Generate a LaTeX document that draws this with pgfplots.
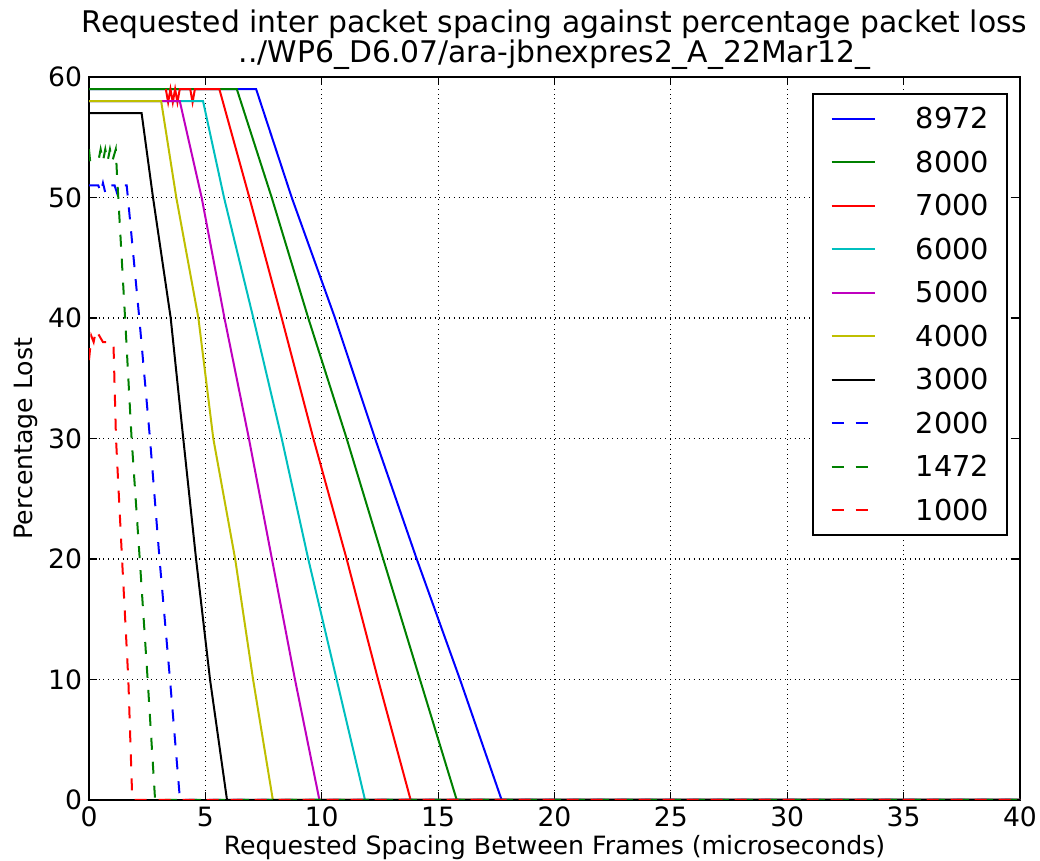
\documentclass[border=0pt]{standalone}
\usepackage{pgfplots}
\pgfplotsset{compat=1.18}
\usepackage{fontspec}
\setmainfont{DejaVu Sans}
\definecolor{mblue}{rgb}{0,0,1}
\definecolor{mgreen}{rgb}{0,0.5,0}
\definecolor{mred}{rgb}{1,0,0}
\definecolor{mcyan}{rgb}{0,0.75,0.75}
\definecolor{mmag}{rgb}{0.75,0,0.75}
\definecolor{myel}{rgb}{0.75,0.75,0}
\begin{document}
\begin{tikzpicture}
\path[use as bounding box] (-44.5pt,-30.5pt) rectangle (475.5pt,400pt);
\begin{axis}[
  at={(0,0)}, anchor=south west,
  scale only axis, width=465.5pt, height=361.5pt,
  xmin=0, xmax=40, ymin=0, ymax=60,
  xtick={0,5,...,40}, ytick={0,10,...,60},
  tick align=inside, major tick length=4pt,
  every tick/.style={black, line width=0.6pt},
  axis line style={line width=0.9pt},
  grid=major, grid style={black, dotted, line width=0.6pt},
  /pgf/number format/assume math mode=true,
  tick label style={font=\fontsize{13.3}{15}\selectfont},
  title={Requested inter packet spacing against percentage packet loss\\../WP6\_D6.07/ara-jbnexpres2\_A\_22Mar12\_},
  title style={font=\fontsize{14.9}{14}\selectfont, align=center, at={(0.5,1)}, anchor=south, yshift=-6pt},
  xlabel={Requested Spacing Between Frames (microseconds)},
  ylabel={Percentage Lost},
  label style={font=\fontsize{12.6}{14}\selectfont},
  xlabel style={yshift=3pt},
  ylabel style={yshift=-1.5pt},
  legend style={at={(0.987,0.978)}, anchor=north east, draw=black, line width=0.9pt,
    font=\fontsize{14.4}{16}\selectfont, inner xsep=9pt, inner ysep=7.5pt,
    row sep=11.75pt,
    nodes={inner sep=0pt, text height=10pt, text depth=0pt},
    /tikz/every odd column/.append style={column sep=20pt}},
  legend image code/.code={\draw[#1, line width=1pt] (0pt,0pt) -- (21.5pt,0pt);},
  every axis plot/.append style={line width=1pt},
]
\addplot[mblue] coordinates {(0,59)(7.18,59)(8.71,50)(10.57,40)(12.29,30)(14.08,20)(15.94,10)(17.73,0)(40,0)};
\addlegendentry{8972}
\addplot[mgreen] coordinates {(0,59)(6.35,59)(7.85,50)(9.42,40)(11.07,30)(12.64,20)(14.22,10)(15.8,0)(40,0)};
\addlegendentry{8000}
\addplot[mred] coordinates {(3.3,59)(3.4,57.9)(3.5,59)(3.6,57.9)(3.7,59)(3.8,57.9)(3.9,59)(4.35,59)(4.45,57.9)(4.55,59)(5.6,59)(6.89,50)(8.28,40)(9.64,30)(11.07,20)(12.42,10)(13.82,0)(40,0)};
\addlegendentry{7000}
\addplot[mcyan] coordinates {(0,58)(4.9,58)(5.8,50)(7.06,40)(8.28,30)(9.42,20)(10.64,10)(11.86,0)(40,0)};
\addlegendentry{6000}
\addplot[mmag] coordinates {(0,58)(3.9,58)(4.84,50)(5.82,40)(6.87,30)(7.86,20)(8.85,10)(9.9,0)(40,0)};
\addlegendentry{5000}
\addplot[myel] coordinates {(0,58)(3.1,58)(3.75,50)(4.7,40)(5.34,30)(6.28,20)(7.05,10)(7.9,0)(40,0)};
\addlegendentry{4000}
\addplot[black] coordinates {(0,57)(2.26,57)(2.75,50)(3.51,40)(4.05,30)(4.6,20)(5.2,10)(5.93,0)(40,0)};
\addlegendentry{3000}
\addplot[mblue, dash pattern=on 6pt off 6pt] coordinates {(0,51)(0.4,51)(0.5,50.4)(0.6,51.2)(0.7,50.4)(0.8,51)(1.1,51)(1.2,50.4)(1.3,51)(1.62,51)(1.72,49)(2.16,40)(2.62,30)(3.03,20)(3.48,10)(3.91,0)(40,0)};
\addlegendentry{2000}
\addplot[mgreen, dash pattern=on 6pt off 6pt] coordinates {(0,54)(0.05,53)(0.4,53)(0.5,54)(0.6,53)(0.7,54)(0.8,53)(0.9,54)(1.0,53)(1.15,54)(1.2,52)(1.55,40)(1.83,30)(2.18,20)(2.52,10)(2.84,0)(40,0)};
\addlegendentry{1472}
\addplot[mred, dash pattern=on 6pt off 6pt] coordinates {(0,36.5)(0.1,38.5)(0.2,38)(0.3,39)(0.45,38.5)(0.6,38)(1.05,38)(1.16,30)(1.42,20)(1.69,10)(1.86,0)(40,0)};
\addlegendentry{1000}
\end{axis}
\end{tikzpicture}
\end{document}
